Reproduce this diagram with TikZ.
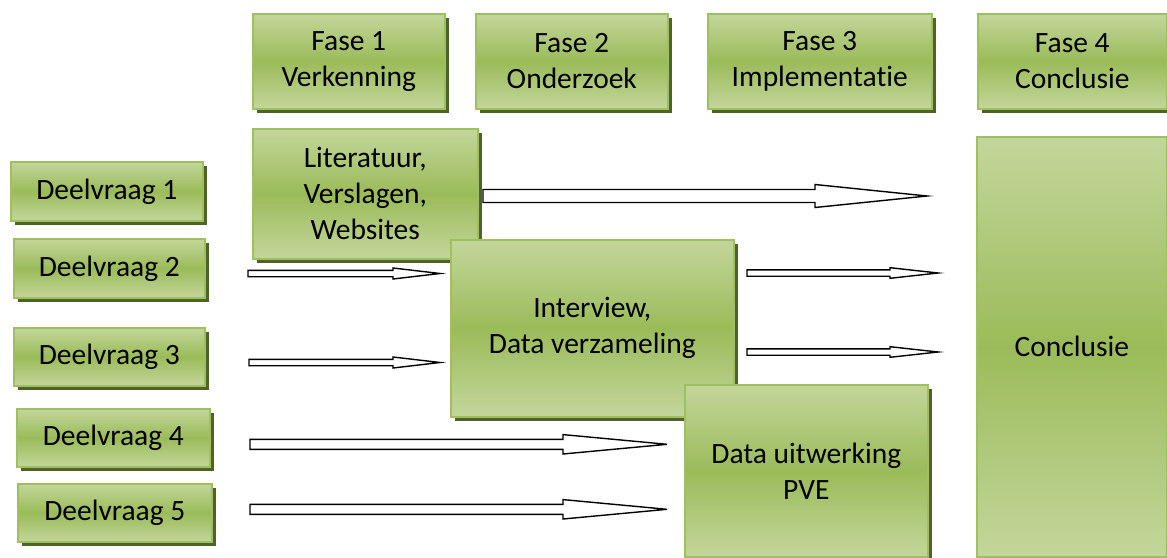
\documentclass[tikz,border=0pt]{standalone}
\usepackage{fontspec}
\setmainfont{Carlito}[RawFeature={-liga;-calt;-dlig;-clig}]
\usetikzlibrary{shadows}
\definecolor{gmid}{RGB}{155,187,89}
\definecolor{glight}{RGB}{195,214,155}
\definecolor{gborder}{RGB}{160,192,96}
\definecolor{gshadow}{RGB}{79,98,40}
\tikzset{
  gbox/.style={draw=gborder, line width=1.6pt, top color=glight, bottom color=glight, middle color=gmid,
    drop shadow={shadow xshift=4pt, shadow yshift=-4pt, fill=gshadow, opacity=1},
    anchor=north west, align=center, inner sep=0pt, text=black,
    font=\fontsize{29.5}{36}\selectfont},
  barrow/.style={draw=black, fill=white, line width=1.4pt, line join=miter}
}
% \blockarrow{x start}{head start}{tip}{y}{shaft half}{head half}
\newcommand{\blockarrow}[6]{%
  \draw[barrow] (#1,#4-#5) -- (#2,#4-#5) -- (#2,#4-#6) -- (#3,#4) -- (#2,#4+#6) -- (#2,#4+#5) -- (#1,#4+#5) -- cycle;}
\begin{document}
\begin{tikzpicture}[x=1pt,y=-1pt]
\useasboundingbox[fill=white] (0,0) rectangle (1167,557);
% phase headers
\node[gbox, minimum width=192pt, minimum height=95pt] (f1) at (252,13) {Fase 1\\Verkenning};
\node[gbox, minimum width=192pt, minimum height=95pt] (f2) at (475,13) {Fase 2\\Onderzoek};
\node[gbox, minimum width=224pt, minimum height=95pt] (f3) at (707,13) {Fase 3\\Implementat\kern0pt ie};
\node[gbox, minimum width=189pt, minimum height=95pt] (f4) at (977,13) {Fase 4\\Conclusie};
% questions
\node[gbox, minimum width=192pt, minimum height=59pt] (d1) at (10,161) {Deelvraag 1};
\node[gbox, minimum width=191pt, minimum height=59pt] (d2) at (13,238) {Deelvraag 2};
\node[gbox, minimum width=191pt, minimum height=58pt] (d3) at (13,327) {Deelvraag 3};
\node[gbox, minimum width=193pt, minimum height=58pt] (d4) at (16,408) {Deelvraag 4};
\node[gbox, minimum width=194pt, minimum height=58pt] (d5) at (17,483) {Deelvraag 5};
% work boxes
\node[gbox, minimum width=225pt, minimum height=130pt] (lit) at (252,128) {Literatuur,\\Verslagen,\\Websites};
\node[gbox, minimum width=283pt, minimum height=177pt] (int) at (450,239) {Interview,\\Data verzameling};
\node[gbox, minimum width=243pt, minimum height=172pt] (pve) at (684,384) {Data uitwerking\\PVE};
\node[gbox, minimum width=190pt, minimum height=420pt] (con) at (976,136) {Conclusie};
% block arrows
\blockarrow{483}{815}{927}{196}{6.5}{11.5}
\blockarrow{248}{393}{440}{273.5}{3.2}{5.5}
\blockarrow{249}{393}{440}{362.5}{3.2}{5.5}
\blockarrow{747}{890}{938}{273}{3.2}{5.3}
\blockarrow{747}{890}{938}{352}{3.2}{5.3}
\blockarrow{250}{563}{667}{444.3}{5}{9.7}
\blockarrow{250}{563}{667}{509.3}{5}{9.7}
\end{tikzpicture}
\end{document}
